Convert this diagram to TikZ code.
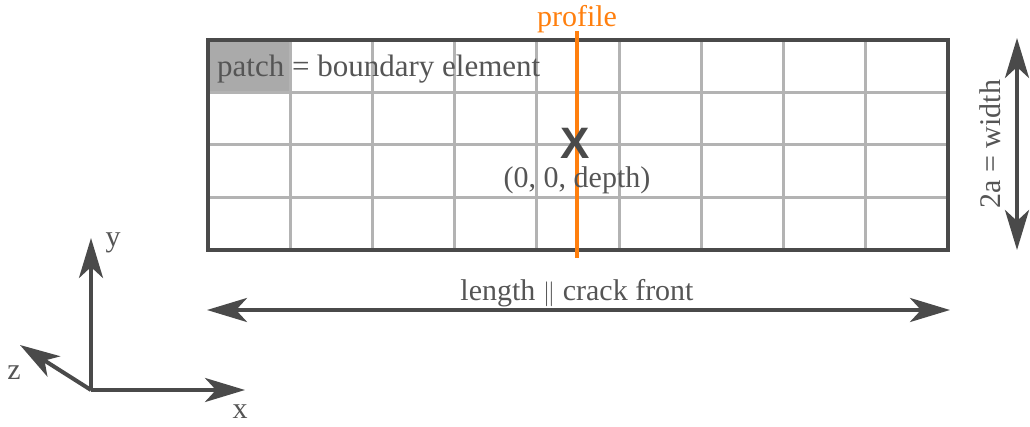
\documentclass[tikz,border=0pt]{standalone}
\usepackage{fontspec}
\setmainfont{Liberation Serif}
\newfontfamily\crossfont{Liberation Sans}
\usetikzlibrary{arrows.meta}
\definecolor{darkline}{HTML}{4A4A4A}
\definecolor{labeltext}{HTML}{555555}
\definecolor{gridgray}{HTML}{B3B3B3}
\definecolor{patchgray}{HTML}{AAAAAA}
\definecolor{profileorange}{RGB}{255,127,14}
\tikzset{
  bigtip/.tip={Stealth[length=40pt,width=24pt,inset=11pt]},
  axis/.style={draw=darkline,line width=4pt,-bigtip},
  dimline/.style={draw=darkline,line width=4pt,bigtip-bigtip},
  gridline/.style={draw=gridgray,line width=3pt},
  lbl/.style={text=labeltext,font=\fontsize{30}{35}\selectfont,inner sep=0pt}
}
\begin{document}
\begin{tikzpicture}[x=1pt,y=1pt,line cap=butt,line join=miter]
  \useasboundingbox (0,0) rectangle (1030,426);
  \coordinate (sw) at (208,176);
  \coordinate (ne) at (948,386);
  \fill[patchgray] (208,386) rectangle (292,333);
  \foreach \i in {1,...,8}
    \draw[gridline] ({208+\i*740/9},176) -- ++(0,210);
  \foreach \j in {1,2,3}
    \draw[gridline] (208,{176+\j*52.5}) -- ++(740,0);
  \node[lbl,font=\fontsize{31}{36}\selectfont,anchor=base west] (patch) at (217,349) {patch = boundary element};
  \draw[darkline,line width=4pt] (sw) rectangle (ne);
  \coordinate (proftop) at (577,395);
  \coordinate (profbot) at (577,168);
  \draw[profileorange,line width=4.5pt] (proftop) -- (profbot);
  \node[lbl,text=profileorange,anchor=base] (profile) at (577,399) {profile};
  \node[text=darkline,font=\crossfont\bfseries\fontsize{44}{44}\selectfont,inner sep=0pt] (origin) at (575,283) {X};
  \node[lbl,anchor=base] (depth) at (577,238) {(0, 0, depth)};
  \coordinate (lenl) at (207,116);
  \coordinate (lenr) at (950,116);
  \draw[dimline] (lenl) -- (lenr);
  \node[lbl,anchor=base] (length) at (577,126) {length $\|$ crack front};
  \coordinate (widt) at (1017,388);
  \coordinate (widb) at (1017,176);
  \draw[dimline] (widb) -- (widt);
  \node[lbl,rotate=90,anchor=base] (width) at (1000,282) {2a = width};
  \coordinate (o) at (91,36);
  \coordinate (xend) at (245,36);
  \coordinate (yend) at (91,188);
  \coordinate (zend) at (20,81);
  \draw[axis] (o) -- (xend);
  \draw[axis] (o) -- (yend);
  \draw[axis] (o) -- (zend);
  \node[lbl] (xlbl) at (240,14) {x};
  \node[lbl] (ylbl) at (113,183) {y};
  \node[lbl] (zlbl) at (14,53) {z};
\end{tikzpicture}
\end{document}
